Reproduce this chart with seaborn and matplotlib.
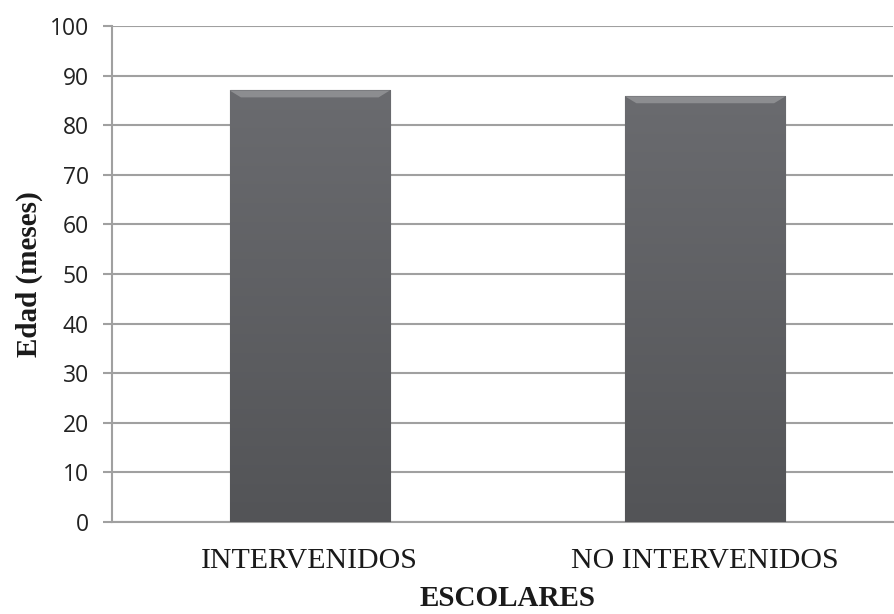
import matplotlib
matplotlib.use("Agg")
import matplotlib.pyplot as plt
import seaborn as sns
import numpy as np
import pandas as pd
from matplotlib.colors import LinearSegmentedColormap

categories = ["INTERVENIDOS", "NO INTERVENIDOS"]
values = [87.0, 85.8]
yticks = [0, 10, 20, 30, 40, 50, 60, 70, 80, 90, 100]

sns.set_style("white")
plt.rcParams['font.family'] = ['Open Sans', 'DejaVu Sans']

df = pd.DataFrame({"cat": categories, "val": values})

fig = plt.figure(figsize=(8.94, 6.14), dpi=100)
ax = fig.add_axes([112/894, 92/614, (893-112)/894, (522-26)/614])

sns.barplot(data=df, x="cat", y="val", ax=ax, color="#606166", width=0.405,
            saturation=1, edgecolor="#4a4b4e", linewidth=0.8, zorder=3)

# subtle vertical gradient on bars, clipped to each bar patch
grad = np.linspace(0, 1, 256).reshape(-1, 1)
cmap = LinearSegmentedColormap.from_list("g", ["#535457", "#6a6b6f"])
for p in list(ax.patches):
    x0, y0 = p.get_x(), p.get_y()
    w, h = p.get_width(), p.get_height()
    im = ax.imshow(grad, cmap=cmap, aspect="auto", origin="lower",
                   extent=[x0, x0 + w, y0, y0 + h], zorder=3.5)
    im.set_clip_path(p)
    # top bevel highlight
    bev = plt.Polygon([[x0, y0 + h], [x0 + w, y0 + h],
                       [x0 + w * 0.93, y0 + h * 0.984], [x0 + w * 0.07, y0 + h * 0.984]],
                      closed=True, facecolor="#8c8d90", edgecolor="none", zorder=3.6)
    ax.add_patch(bev)

ax.set_ylim(0, 100)
ax.set_xlim(-0.5, 1.5 - 10/395)
ax.set_yticks(yticks)
ax.yaxis.grid(True, color="#a0a0a0", linewidth=1.5, zorder=0)
ax.set_axisbelow(True)

for s in ["top", "right"]:
    ax.spines[s].set_visible(False)
ax.spines["left"].set_color("#a0a0a0")
ax.spines["left"].set_linewidth(1.5)
ax.spines["bottom"].set_color("#a0a0a0")
ax.spines["bottom"].set_linewidth(1.5)

ax.tick_params(axis="y", which="major", left=True, length=6.5, width=1.5,
               color="#a0a0a0", labelsize=16.5, labelcolor="#222222", pad=10)
ax.tick_params(axis="x", bottom=False, pad=15)
for lbl in ax.get_xticklabels():
    lbl.set_fontfamily(["Liberation Serif", "DejaVu Serif"])
    lbl.set_fontsize(21.5)
    lbl.set_color("#1a1a1a")

ax.set_xlabel("ESCOLARES", fontfamily=["Liberation Serif", "DejaVu Serif"],
              fontsize=21, fontweight="bold", color="#1a1a1a")
ax.xaxis.set_label_coords(0.507, -0.155)
ax.xaxis.label.set_va("center")
ax.set_ylabel("Edad (meses)", fontfamily=["Liberation Serif", "DejaVu Serif"],
              fontsize=21, fontweight="bold", color="#1a1a1a", labelpad=5)

fig.savefig("out.png", dpi=100)
